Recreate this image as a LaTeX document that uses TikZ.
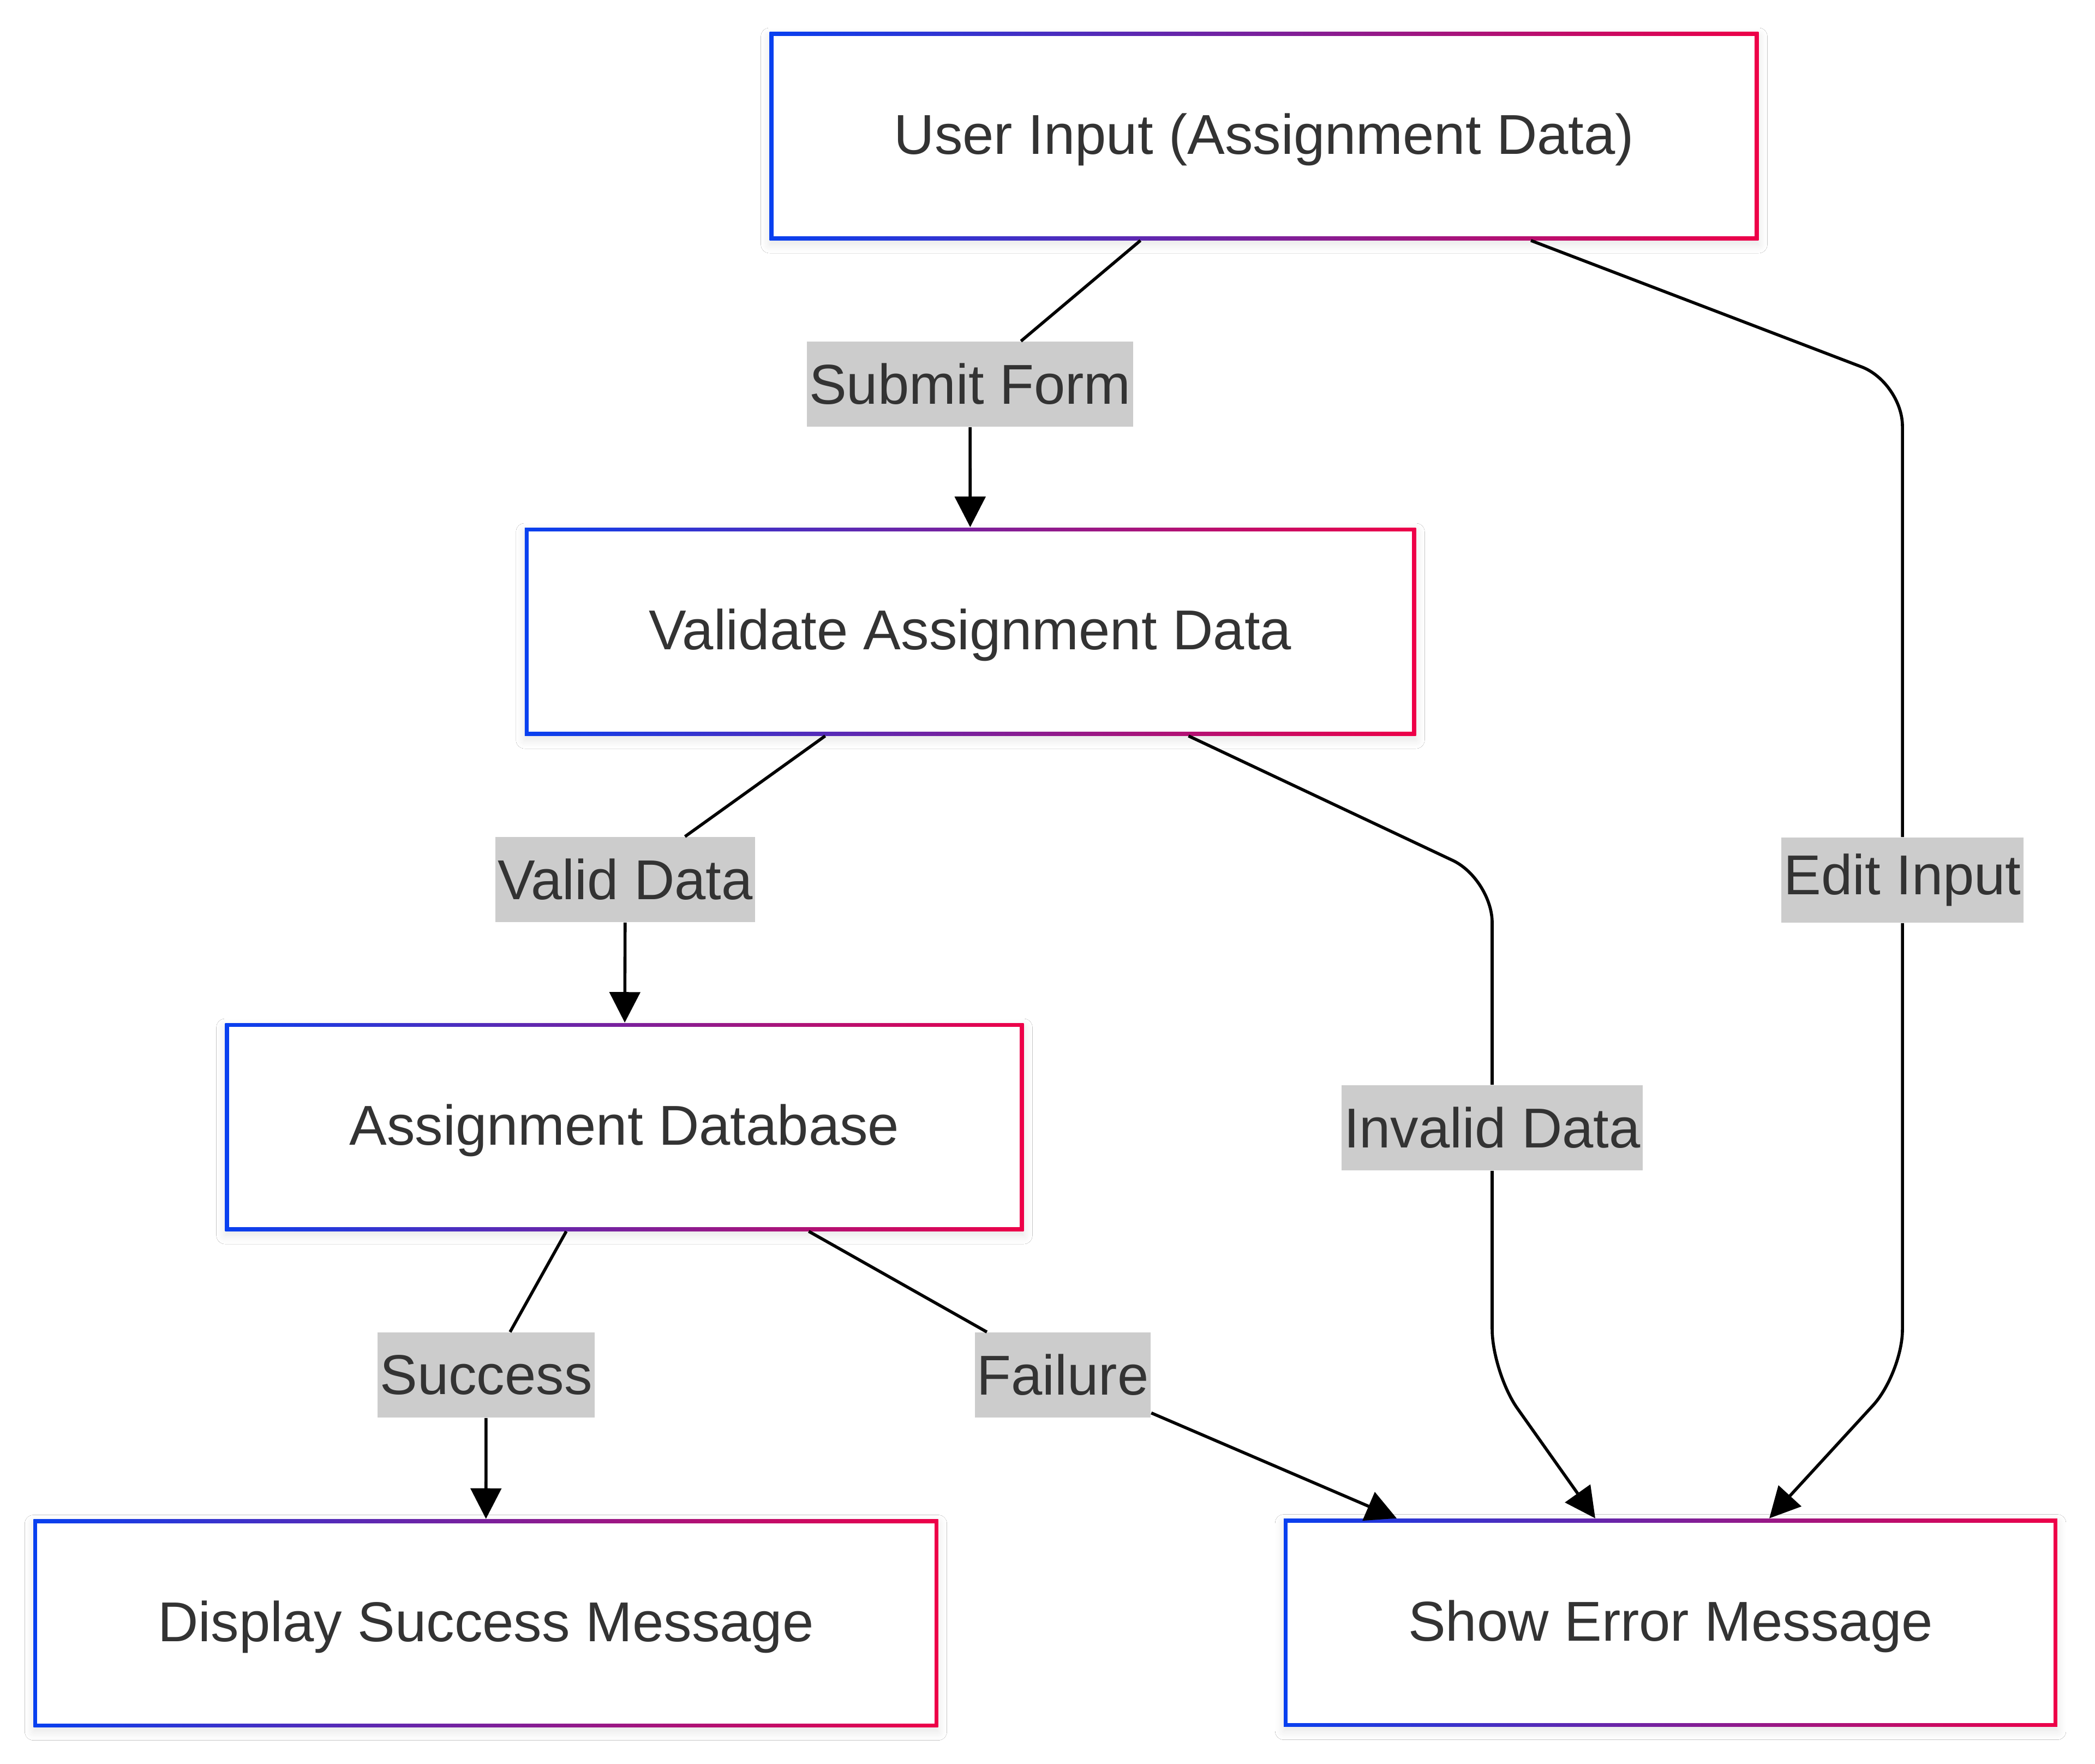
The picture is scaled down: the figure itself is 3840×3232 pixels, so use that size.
\documentclass[tikz,border=0pt]{standalone}
\usepackage{fontspec}
\setmainfont{Liberation Sans}
\usepackage{tikz}
\usetikzlibrary{shapes,arrows.meta,positioning,calc,shadows.blur}
\usepackage{xcolor}

\definecolor{gblue}{HTML}{0840F0}
\definecolor{gred}{HTML}{EE0048}
\definecolor{txtgray}{HTML}{333333}
\definecolor{lblgray}{HTML}{CCCCCC}

\tikzset{
    procbox/.style={rectangle, fill=white, minimum height=95.25pt, inner xsep=57pt, inner ysep=0pt,
        text height=22pt, text depth=5.4pt,
        text=txtgray, font=\fontsize{25.75pt}{30pt}\selectfont,
        blur shadow={shadow xshift=0pt, shadow yshift=-2pt, shadow blur radius=4pt, shadow blur steps=10, shadow opacity=10},
        path picture={
            \shade[left color=gblue, right color=gred] (path picture bounding box.south west) rectangle (path picture bounding box.north east);
            \fill[white] ([shift={(1.75pt,1.75pt)}]path picture bounding box.south west) rectangle ([shift={(-1.75pt,-1.75pt)}]path picture bounding box.north east);
        }},
    edgelbl/.style={rectangle, fill=lblgray, minimum height=39pt, inner xsep=1pt, inner ysep=0pt,
        text=txtgray, font=\fontsize{25.75pt}{30pt}\selectfont},
    flow/.style={draw=black, line width=1.4pt},
    tip/.style={-{Triangle[length=14pt, width=14pt]}}
}

\begin{document}
\begin{tikzpicture}[x=0.25pt, y=-0.25pt]
                    \useasboundingbox[fill=white] (0,0) rectangle (3840,3232);

                    % boxes
                    \node[procbox] (user) at (2317,249.5) {User Input (Assignment Data)};
                    \node[procbox] (valid) at (1778.5,1157.5) {Validate Assignment Data};
                    \node[procbox] (db) at (1144.5,2065.5) {Assignment Database};
                    \node[procbox] (succ) at (890.5,2975) {Display Success Message};
                    \node[procbox] (err) at (3062,2974) {Show Error Message};

                    % edge labels
                    \node[edgelbl] (lSubmit) at (1778,704) {Submit Form};
                    \node[edgelbl] (lValid) at (1146,1612) {Valid Data};
                    \node[edgelbl] (lInvalid) at (2735,2067) {Invalid Data};
                    \node[edgelbl] (lEdit) at (3487,1613) {Edit Input};
                    \node[edgelbl] (lSuccess) at (891,2520) {Success};
                    \node[edgelbl] (lFailure) at (1948,2520) {Failure};

                    \coordinate (bendE1) at (3487,701);
                    \coordinate (bendE2) at (3487,2517);
                    \coordinate (bendI1) at (2735,1611);
                    \coordinate (bendI2) at (2735,2516);

                    % connectors
                    \draw[flow] (user) -- (lSubmit);
                    \draw[flow, tip] (lSubmit) -- (valid);
                    \draw[flow] (valid) -- (lValid);
                    \draw[flow, tip] (lValid) -- (db);
                    \draw[flow] (db) -- (lSuccess);
                    \draw[flow, tip] (lSuccess) -- (succ);
                    \draw[flow] (db) -- (lFailure);
                    \draw[flow, tip] (lFailure) -- ([xshift=-125.5pt]err.north);
                    \draw[flow, rounded corners=20pt] ([xshift=100pt]valid.south) -- (bendI1) -- (lInvalid.north);
                    \draw[flow, tip, rounded corners=20pt] (lInvalid.south) -- (bendI2) -- ([xshift=-34.5pt]err.north);
                    \draw[flow, rounded corners=20pt] ([xshift=122.25pt]user.south) -- (bendE1) -- (lEdit.north);
                    \draw[flow, tip, rounded corners=20pt] (lEdit.south) -- (bendE2) -- ([xshift=45.25pt]err.north);
                \end{tikzpicture}
\end{document}
